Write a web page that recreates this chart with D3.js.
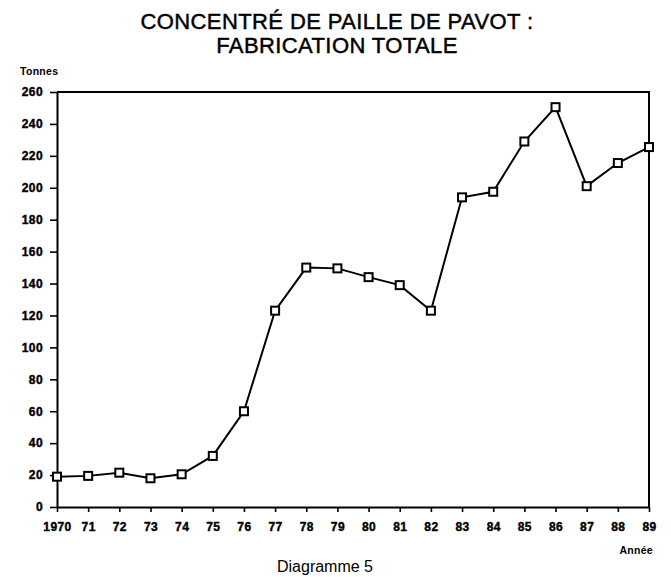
<!DOCTYPE html>
<html>
<head>
<meta charset="utf-8">
<script src="https://cdn.jsdelivr.net/npm/d3@7"></script>
<style>
  body { margin: 0; background: #fff; }
  text { font-family: "Liberation Sans", Arial, sans-serif; fill: #000; }
</style>
</head>
<body>
<div id="container"></div>
<script>
/* CONSTANTS AND GLOBALS */
const width = 671,
  height = 577,
  margin = { top: 92, bottom: 70, left: 57, right: 22 }

/* DATA */
const years = d3.range(1970, 1990)
const tonnes = [19, 19.5, 21.5, 18, 20.5, 32, 60, 123, 150, 149.5, 144, 139, 123, 194, 197.5, 229, 250.5, 201, 215.5, 225.5]
const yTicks = d3.range(0, 261, 20)
const xLabels = ['1970', '71', '72', '73', '74', '75', '76', '77', '78', '79', '80', '81', '82', '83', '84', '85', '86', '87', '88', '89']

const data = years.map((y, i) => ({ year: y, value: tonnes[i] }))

// SCALES
const xScale = d3.scaleLinear()
  .domain([1970, 1989])
  .range([margin.left, width - margin.right])

const yScale = d3.scaleLinear()
  .domain([0, 260])
  .range([height - margin.bottom, margin.top])

// CREATE SVG ELEMENT
const svg = d3.select('#container')
  .append('svg')
  .attr('width', width)
  .attr('height', height)

// TITLE
const title = ['CONCENTRÉ DE PAILLE DE PAVOT :', 'FABRICATION TOTALE']
svg.selectAll('text.title')
  .data(title)
  .join('text')
  .attr('class', 'title')
  .attr('x', 337)
  .attr('y', (d, i) => 29 + i * 24)
  .attr('text-anchor', 'middle')
  .attr('font-size', 22)
  .attr('letter-spacing', 0.4)
  .attr('stroke', '#000')
  .attr('stroke-width', 0.45)
  .text(d => d)

// AXES
const xAxis = d3.axisBottom(xScale)
  .tickValues(years)
  .tickFormat((d, i) => xLabels[i])
  .tickSize(5)
  .tickSizeOuter(0)
  .tickPadding(10)

const yAxis = d3.axisLeft(yScale)
  .tickValues(yTicks)
  .tickSize(7)
  .tickSizeOuter(0)
  .tickPadding(7)

const gx = svg.append('g')
  .attr('transform', `translate(0,${height - margin.bottom})`)
  .call(xAxis)
const gy = svg.append('g')
  .attr('transform', `translate(${margin.left},0)`)
  .call(yAxis)

;[gx, gy].forEach(g => {
  g.select('.domain').attr('stroke', '#000').attr('stroke-width', 2)
  g.selectAll('.tick line').attr('stroke', '#000').attr('stroke-width', 1.6)
  g.selectAll('.tick text')
    .attr('font-family', '"Liberation Sans", Arial, sans-serif')
    .attr('font-size', 12)
    .attr('font-weight', 'bold')
    .attr('letter-spacing', 0.4)
    .attr('fill', '#000')
    .attr('stroke', '#000')
    .attr('stroke-width', 0.4)
})

// frame top and right
svg.append('path')
  .attr('d', `M${margin.left},${margin.top}H${width - margin.right}V${height - margin.bottom}`)
  .attr('fill', 'none')
  .attr('stroke', '#000')
  .attr('stroke-width', 2)

// axis titles
svg.append('text')
  .attr('x', 20).attr('y', 75)
  .attr('font-size', 10.5)
  .attr('font-weight', 'bold')
  .attr('letter-spacing', 0.3)
  .text('Tonnes')
svg.append('text')
  .attr('x', 653).attr('y', 554)
  .attr('text-anchor', 'end')
  .attr('font-size', 10.5)
  .attr('font-weight', 'bold')
  .attr('letter-spacing', 0.3)
  .text('Année')
svg.append('text')
  .attr('x', 325).attr('y', 572)
  .attr('text-anchor', 'middle')
  .attr('font-size', 16)
  .text('Diagramme 5')

// LINE
const line = d3.line()
  .x(d => xScale(d.year))
  .y(d => yScale(d.value))

svg.append('path')
  .datum(data)
  .attr('d', line)
  .attr('fill', 'none')
  .attr('stroke', '#000')
  .attr('stroke-width', 2)

// MARKERS
svg.selectAll('rect.pt')
  .data(data)
  .join('rect')
  .attr('class', 'pt')
  .attr('x', d => xScale(d.year) - 4)
  .attr('y', d => yScale(d.value) - 4)
  .attr('width', 8)
  .attr('height', 8)
  .attr('fill', '#fff')
  .attr('stroke', '#000')
  .attr('stroke-width', 2)
</script>
</body>
</html>
